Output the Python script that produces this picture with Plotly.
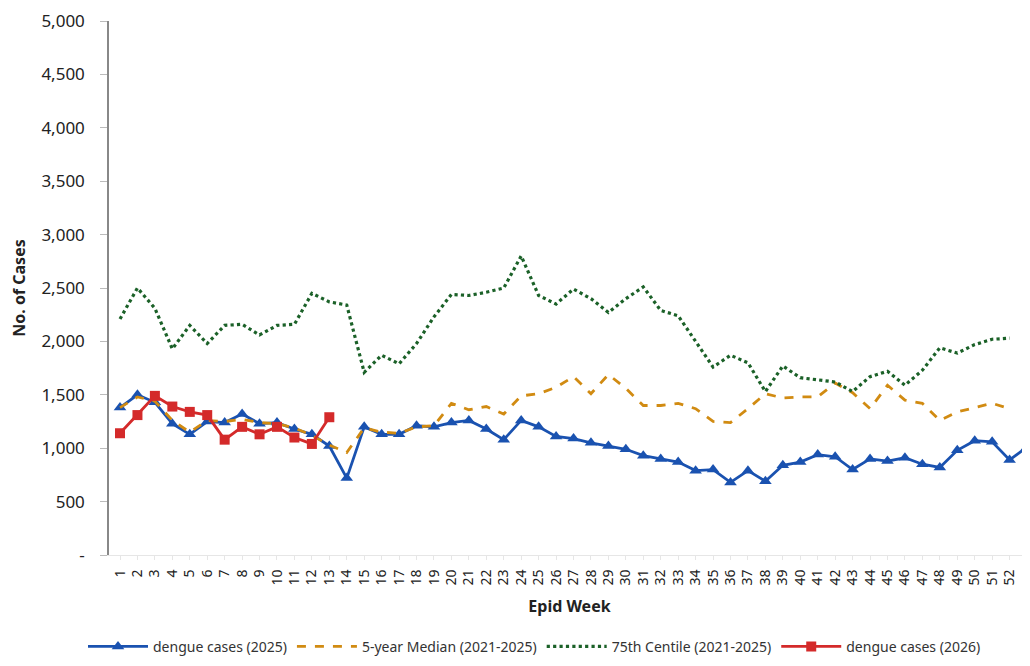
import plotly.graph_objects as go

weeks = list(range(1, 54))
week_labels = [str(w) for w in weeks]

dengue_2025 = [1380, 1500, 1430, 1230, 1130, 1250, 1240, 1320, 1230, 1240,
               1180, 1130, 1020, 720, 1200, 1130, 1130, 1210, 1200, 1240,
               1260, 1180, 1080, 1260, 1200, 1110, 1090, 1050, 1020, 990,
               930, 900, 870, 790, 800, 680, 790, 690, 840, 870,
               940, 920, 800, 900, 880, 910, 850, 820, 980, 1070,
               1060, 890, 1010]

dengue_2026 = [1140, 1310, 1490, 1390, 1340, 1310, 1080, 1200, 1130, 1200,
               1100, 1040, 1290]

median_5yr = [1380, 1480, 1440, 1260, 1150, 1260, 1250, 1270, 1240, 1230,
              1190, 1120, 1030, 960, 1190, 1150, 1140, 1200, 1210, 1420,
              1360, 1390, 1320, 1490, 1510, 1570, 1670, 1510, 1690, 1560,
              1400, 1400, 1420, 1370, 1250, 1240, 1370, 1510, 1470, 1480,
              1480, 1610, 1520, 1370, 1590, 1450, 1420, 1260, 1340, 1380,
              1420, 1370]

centile_75 = [2210, 2500, 2310, 1930, 2150, 1980, 2150, 2160, 2060, 2150,
              2160, 2450, 2370, 2340, 1710, 1870, 1790, 1980, 2230, 2440,
              2430, 2460, 2500, 2800, 2430, 2350, 2490, 2400, 2270, 2400,
              2510, 2290, 2240, 2000, 1760, 1870, 1800, 1530, 1770, 1660,
              1640, 1620, 1530, 1670, 1720, 1590, 1730, 1940, 1890, 1970,
              2020, 2030]

y_tickvals = [0, 500, 1000, 1500, 2000, 2500, 3000, 3500, 4000, 4500, 5000]
y_ticktext = ["-", "500", "1,000", "1,500", "2,000", "2,500", "3,000",
              "3,500", "4,000", "4,500", "5,000"]

FONT = "Noto Sans"

fig = go.Figure()

fig.add_trace(go.Scatter(
    x=weeks[:len(dengue_2025)], y=dengue_2025, name="dengue cases (2025)",
    mode="lines+markers",
    line=dict(color="#1a52b0", width=2.8),
    marker=dict(symbol="triangle-up", size=11, color="#1a52b0"),
))
fig.add_trace(go.Scatter(
    x=weeks[:len(median_5yr)], y=median_5yr, name="5-year Median (2021-2025)",
    mode="lines",
    line=dict(color="#d18b12", width=2.8, dash="dash"),
))
fig.add_trace(go.Scatter(
    x=weeks[:len(centile_75)], y=centile_75, name="75th Centile (2021-2025)",
    mode="lines",
    line=dict(color="#1b6128", width=3.2, dash="dot"),
))
fig.add_trace(go.Scatter(
    x=weeks[:len(dengue_2026)], y=dengue_2026, name="dengue cases (2026)",
    mode="lines+markers",
    line=dict(color="#d42a2a", width=2.8),
    marker=dict(symbol="square", size=10, color="#d42a2a"),
))

fig.update_layout(
    width=1022, height=658,
    margin=dict(l=101, r=0, t=13, b=111),
    paper_bgcolor="white", plot_bgcolor="white",
    font=dict(family=FONT, color="#222222"),
    showlegend=True,
    legend=dict(
        orientation="h", x=0.462, xanchor="center", y=-0.172, yanchor="middle",
        font=dict(size=14, family=FONT, color="#333333"),
        itemwidth=60, traceorder="normal",
    ),
)

fig.update_xaxes(
    range=[0.369, 53.17], automargin=False,
    tickmode="array", tickvals=weeks, ticktext=week_labels,
    tickangle=-90, tickfont=dict(size=14, family=FONT, color="#222222"),
    showline=True, linecolor="#e6e6e6", linewidth=1,
    ticks="outside", ticklen=4, tickcolor="#e6e6e6", ticklabelstandoff=4,
    showgrid=False, zeroline=False,
    title=dict(text="<b>Epid Week</b>", font=dict(size=16, family=FONT, color="#222222"), standoff=16),
)

fig.update_yaxes(
    range=[0, 5000], automargin=False,
    tickmode="array", tickvals=y_tickvals, ticktext=y_ticktext,
    tickfont=dict(size=17, family=FONT, color="#222222"),
    showline=True, linecolor="#888888", linewidth=1.5,
    ticks="outside", ticklen=7, tickcolor="#bbbbbb", ticklabelstandoff=12,
    showgrid=False, zeroline=False,
    title=dict(text="<b>No. of Cases</b>", font=dict(size=16, family=FONT, color="#222222"), standoff=16),
)

fig.write_html("out.html")
